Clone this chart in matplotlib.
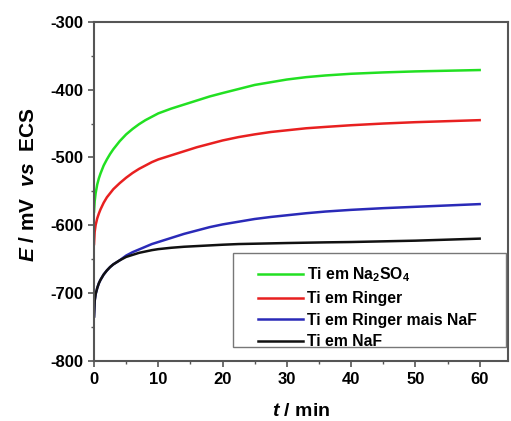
import matplotlib
matplotlib.use("Agg")
import matplotlib.pyplot as plt
from matplotlib.patches import Rectangle
from matplotlib.ticker import MultipleLocator

plt.rcParams["font.family"] = ["Liberation Sans", "DejaVu Sans"]
plt.rcParams["font.weight"] = "bold"
plt.rcParams["axes.unicode_minus"] = False
plt.rcParams["mathtext.fontset"] = "custom"
plt.rcParams["mathtext.rm"] = "Liberation Sans:bold"
plt.rcParams["mathtext.it"] = "Liberation Sans:italic:bold"
plt.rcParams["mathtext.bf"] = "Liberation Sans:bold"

# time (min)
t = [0, 0.1, 0.25, 0.5, 0.75, 1, 1.5, 2, 2.5, 3, 4, 5, 6, 7, 8, 9, 10, 12, 14, 16,
     18, 20, 22.5, 25, 27.5, 30, 33, 36, 40, 45, 50, 55, 60]

# open-circuit potential (mV vs ECS)
e_na2so4 = [-580, -565, -553, -540, -531, -524, -512, -503, -495, -488, -476, -466,
            -458, -451, -445, -440, -435, -428, -422, -416, -410, -405, -399, -393,
            -389, -385, -381.5, -379, -376.5, -374.5, -373, -372, -371]
e_ringer = [-628, -610, -600, -590, -583, -577, -567, -559, -553, -547, -538, -530,
            -523, -517, -512, -507, -503, -497, -491, -485, -480, -475, -470, -466,
            -462.5, -460, -457, -455, -452.5, -450, -448, -446.5, -445]
e_ringer_naf = [-735, -712, -702, -693, -686, -681, -673, -667, -662, -658, -652, -645,
                -640, -636, -632, -628, -625, -619, -613, -608, -603, -599, -595, -591,
                -588, -585.5, -582.5, -580, -577.5, -575, -573, -571, -569]
e_naf = [-735, -712, -702, -693, -686, -681, -673, -667, -662, -658, -652, -647,
         -644, -641, -639, -637, -635.5, -633.5, -632, -631, -630, -629, -628, -627.5,
         -627, -626.5, -626, -625.5, -625, -624, -623, -621.5, -620]

labels = [r"Ti em Na$_\mathrm{2}$SO$_\mathrm{4}$", "Ti em Ringer",
          "Ti em Ringer mais NaF", "Ti em NaF"]
colors = ["#22e022", "#e82020", "#2a2ab8", "#111111"]

fig = plt.figure(figsize=(5.11, 4.21), dpi=100)
ax = fig.add_axes([0.184, 0.1437, 0.81, 0.8041])

for y, lab, c in zip([e_na2so4, e_ringer, e_ringer_naf, e_naf], labels, colors):
    ax.plot(t, y, color=c, lw=1.8, label=lab, solid_joinstyle="round")

ax.set_xlim(0, 64.4)
ax.set_ylim(-800, -300)
ax.xaxis.set_major_locator(MultipleLocator(10))
ax.xaxis.set_minor_locator(MultipleLocator(5))
ax.yaxis.set_major_locator(MultipleLocator(100))
ax.yaxis.set_minor_locator(MultipleLocator(50))

spine_col = "#555555"
for s in ax.spines.values():
    s.set_color(spine_col)
    s.set_linewidth(1.5)
ax.tick_params(which="major", direction="out", length=4, width=1.2,
               color=spine_col, labelsize=12, pad=4)
ax.tick_params(which="minor", direction="out", length=2.5, width=1.0, color=spine_col)
for lbl in ax.get_xticklabels() + ax.get_yticklabels():
    lbl.set_fontweight("bold")

ax.set_xlabel(r"$\mathit{t}$ / min", fontsize=14, fontweight="bold", labelpad=12)
ax.set_ylabel(r"$\mathit{E}$ / mV  $\mathit{vs}$  ECS", fontsize=15, fontweight="bold")
ax.yaxis.set_label_coords(-0.135, 0.52)

# legend box with generous side margins
ax.add_patch(Rectangle((0.336, 0.04), 0.659, 0.278, transform=ax.transAxes,
                       facecolor="white", edgecolor="#777777", lw=1.0, zorder=4))
leg = ax.legend(loc="upper left", bbox_to_anchor=(0.396, 0.28), frameon=False,
                prop={"family": "Liberation Sans", "weight": "bold", "size": 11.3},
                handlelength=2.85, handletextpad=0.3, labelspacing=0.42,
                borderpad=0, borderaxespad=0)
leg.set_zorder(5)

fig.savefig("out.png", dpi=100)
